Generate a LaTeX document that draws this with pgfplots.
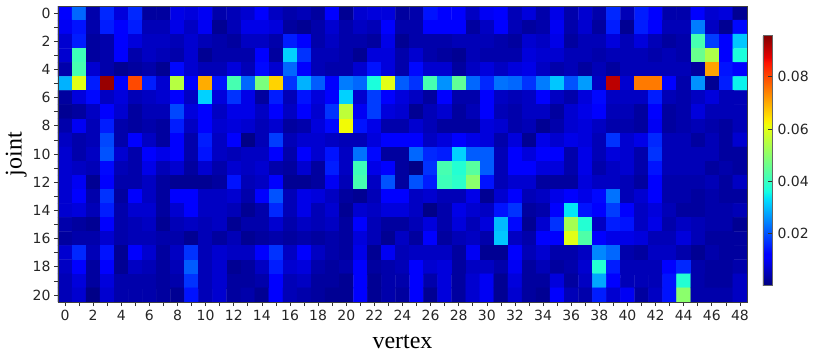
\documentclass[border=0pt]{standalone}
\usepackage{fontspec}
\setmainfont{DejaVu Sans}
\newfontfamily\timesfont{Liberation Serif}
\usepackage{pgfplots}
\pgfplotsset{compat=1.18}

% matplotlib's jet
\pgfplotsset{colormap={mpljet}{
  rgb(0)=(0,0,.5) rgb(22)=(0,0,1) rgb(25)=(0,0,1) rgb(68)=(0,.86,1) rgb(70)=(0,.9,.97)
  rgb(75)=(.08,1,.887) rgb(128)=(.935,1,.032) rgb(130)=(.968,.963,0) rgb(132)=(1,.926,0)
  rgb(178)=(1,.074,0) rgb(182)=(.909,0,0) rgb(200)=(.5,0,0)}}

\begin{document}
\begin{tikzpicture}
\useasboundingbox (-58pt,-54pt) rectangle (772pt,302pt);
\begin{axis}[
    at={(0pt,0pt)}, anchor=south west,
    scale only axis,
    width=689pt, height=296pt,
    y dir=reverse,
    xmin=-0.5, xmax=48.5, ymin=-0.5, ymax=20.5,
    enlargelimits=false,
    axis on top,
    axis line style={black!75, line width=0.8pt},
    xtick={0,2,...,48}, minor xtick={1,3,...,47},
    ytick={0,2,...,20}, minor ytick={1,3,...,19},
    xtick pos=lower, ytick pos=left,
    tick align=outside,
    major tick length=4pt, minor tick length=4pt,
    tick style={black!80, line width=0.7pt},
    /pgf/number format/assume math mode=true,
    ticklabel style={font=\fontsize{14}{16}\selectfont, text=black!85},
    xticklabel style={yshift=-1pt}, yticklabel style={xshift=0pt},
    xlabel={\timesfont\fontsize{24}{26}\selectfont vertex},
    ylabel={\timesfont\fontsize{24}{26}\selectfont joint},
    xlabel style={yshift=-7pt}, ylabel style={yshift=-1pt},
    colormap name=mpljet,
    point meta min=0.0004, point meta max=0.096,
    colorbar,
    colorbar style={
        scale only axis,
        at={(1.0232,0.0574)}, anchor=south west,
        width=9pt, height=250pt,
        ytick={0.02,0.04,0.06,0.08},
        yticklabel pos=right,
        ytick pos=right,
        major tick length=4pt,
        axis line style={black!60, line width=0.8pt},
        scaled y ticks=false,
        yticklabel style={xshift=2pt, /pgf/number format/.cd, fixed, fixed zerofill, precision=2, assume math mode=true},
    },
]
\addplot[matrix plot*, mesh/cols=49, mesh/ordering=x varies, point meta=explicit]
  table[row sep=\\, header=false, meta index=0,
        x expr={mod(\coordindex+0.5,49)-0.5}, y expr={floor((\coordindex+0.5)/49)}] {
0.011\\0.022\\0.004\\0.016\\0.008\\0.016\\0.003\\0.003\\0.009\\0.008\\0.010\\0.004\\0.005\\0.007\\0.012\\0.006\\0.004\\0.005\\0.003\\0.011\\0.002\\0.007\\0.008\\0.008\\0.003\\0.004\\0.014\\0.012\\0.012\\0.006\\0.010\\0.012\\0.005\\0.008\\0.004\\0.009\\0.004\\0.007\\0.004\\0.016\\0.005\\0.015\\0.011\\0.004\\0.004\\0.011\\0.007\\0.008\\0.002\\
0.010\\0.014\\0.004\\0.015\\0.011\\0.015\\0.005\\0.005\\0.009\\0.006\\0.010\\0.002\\0.005\\0.009\\0.009\\0.008\\0.003\\0.002\\0.004\\0.007\\0.004\\0.006\\0.005\\0.011\\0.004\\0.004\\0.011\\0.011\\0.012\\0.003\\0.006\\0.011\\0.005\\0.003\\0.004\\0.010\\0.004\\0.007\\0.003\\0.015\\0.002\\0.015\\0.012\\0.005\\0.005\\0.024\\0.006\\0.002\\0.013\\
0.007\\0.015\\0.003\\0.004\\0.012\\0.008\\0.006\\0.006\\0.005\\0.007\\0.005\\0.004\\0.003\\0.006\\0.006\\0.004\\0.015\\0.011\\0.004\\0.006\\0.004\\0.004\\0.003\\0.009\\0.002\\0.004\\0.004\\0.004\\0.005\\0.005\\0.005\\0.004\\0.003\\0.007\\0.006\\0.009\\0.003\\0.005\\0.005\\0.008\\0.005\\0.008\\0.005\\0.003\\0.004\\0.042\\0.018\\0.011\\0.031\\
0.007\\0.041\\0.003\\0.004\\0.012\\0.004\\0.006\\0.005\\0.004\\0.007\\0.002\\0.004\\0.004\\0.004\\0.011\\0.003\\0.032\\0.017\\0.005\\0.005\\0.004\\0.002\\0.008\\0.008\\0.004\\0.007\\0.004\\0.003\\0.002\\0.005\\0.004\\0.004\\0.004\\0.008\\0.007\\0.007\\0.005\\0.005\\0.004\\0.005\\0.005\\0.005\\0.004\\0.005\\0.004\\0.046\\0.054\\0.011\\0.037\\
0.004\\0.042\\0.007\\0.004\\0.002\\0.003\\0.004\\0.002\\0.013\\0.007\\0.005\\0.005\\0.008\\0.005\\0.013\\0.007\\0.022\\0.011\\0.005\\0.004\\0.004\\0.007\\0.014\\0.008\\0.004\\0.013\\0.007\\0.007\\0.003\\0.006\\0.008\\0.006\\0.008\\0.009\\0.006\\0.004\\0.005\\0.003\\0.005\\0.003\\0.005\\0.005\\0.005\\0.005\\0.005\\0.003\\0.071\\0.014\\0.011\\
0.029\\0.060\\0.015\\0.094\\0.012\\0.080\\0.015\\0.007\\0.055\\0.011\\0.070\\0.014\\0.042\\0.022\\0.048\\0.066\\0.017\\0.029\\0.021\\0.012\\0.024\\0.022\\0.037\\0.060\\0.021\\0.017\\0.042\\0.026\\0.045\\0.022\\0.016\\0.023\\0.022\\0.017\\0.024\\0.031\\0.020\\0.027\\0.006\\0.091\\0.007\\0.075\\0.075\\0.012\\0.004\\0.026\\0.002\\0.015\\0.035\\
0.003\\0.008\\0.013\\0.006\\0.008\\0.005\\0.006\\0.007\\0.012\\0.006\\0.032\\0.008\\0.017\\0.009\\0.003\\0.015\\0.005\\0.014\\0.008\\0.011\\0.032\\0.007\\0.018\\0.011\\0.008\\0.006\\0.003\\0.012\\0.004\\0.004\\0.011\\0.006\\0.005\\0.006\\0.012\\0.006\\0.004\\0.008\\0.013\\0.006\\0.006\\0.006\\0.015\\0.005\\0.004\\0.006\\0.008\\0.005\\0.005\\
0.002\\0.003\\0.006\\0.012\\0.007\\0.003\\0.005\\0.005\\0.019\\0.008\\0.012\\0.006\\0.009\\0.009\\0.006\\0.011\\0.006\\0.011\\0.007\\0.017\\0.056\\0.010\\0.018\\0.008\\0.007\\0.002\\0.005\\0.007\\0.003\\0.005\\0.011\\0.005\\0.004\\0.006\\0.006\\0.003\\0.007\\0.009\\0.011\\0.005\\0.005\\0.003\\0.011\\0.003\\0.004\\0.008\\0.005\\0.005\\0.005\\
0.004\\0.010\\0.005\\0.015\\0.004\\0.003\\0.004\\0.003\\0.015\\0.006\\0.011\\0.007\\0.008\\0.007\\0.005\\0.007\\0.003\\0.004\\0.008\\0.013\\0.062\\0.014\\0.009\\0.004\\0.004\\0.007\\0.005\\0.003\\0.003\\0.003\\0.008\\0.007\\0.004\\0.005\\0.002\\0.004\\0.007\\0.008\\0.006\\0.004\\0.004\\0.003\\0.010\\0.003\\0.004\\0.005\\0.004\\0.003\\0.005\\
0.006\\0.004\\0.005\\0.019\\0.004\\0.011\\0.006\\0.003\\0.011\\0.004\\0.015\\0.006\\0.011\\0.001\\0.005\\0.018\\0.005\\0.007\\0.007\\0.006\\0.005\\0.005\\0.008\\0.011\\0.011\\0.011\\0.006\\0.008\\0.011\\0.009\\0.008\\0.004\\0.008\\0.002\\0.009\\0.007\\0.009\\0.008\\0.005\\0.017\\0.007\\0.009\\0.016\\0.005\\0.005\\0.003\\0.005\\0.003\\0.007\\
0.007\\0.004\\0.006\\0.020\\0.007\\0.004\\0.011\\0.009\\0.011\\0.004\\0.014\\0.006\\0.005\\0.006\\0.006\\0.012\\0.004\\0.011\\0.007\\0.014\\0.006\\0.023\\0.013\\0.003\\0.003\\0.022\\0.016\\0.015\\0.032\\0.021\\0.021\\0.005\\0.012\\0.008\\0.012\\0.012\\0.004\\0.009\\0.005\\0.008\\0.007\\0.004\\0.017\\0.005\\0.005\\0.005\\0.005\\0.003\\0.003\\
0.007\\0.006\\0.005\\0.013\\0.005\\0.004\\0.009\\0.005\\0.007\\0.003\\0.007\\0.004\\0.007\\0.006\\0.007\\0.004\\0.003\\0.007\\0.003\\0.015\\0.006\\0.041\\0.009\\0.011\\0.003\\0.001\\0.017\\0.042\\0.038\\0.044\\0.021\\0.005\\0.011\\0.011\\0.008\\0.008\\0.004\\0.009\\0.004\\0.006\\0.007\\0.004\\0.014\\0.005\\0.005\\0.005\\0.003\\0.004\\0.003\\
0.007\\0.010\\0.002\\0.012\\0.004\\0.004\\0.006\\0.003\\0.002\\0.002\\0.002\\0.003\\0.014\\0.005\\0.006\\0.011\\0.002\\0.002\\0.003\\0.010\\0.005\\0.042\\0.006\\0.020\\0.003\\0.020\\0.015\\0.041\\0.039\\0.050\\0.014\\0.005\\0.007\\0.007\\0.003\\0.003\\0.003\\0.008\\0.006\\0.006\\0.005\\0.003\\0.011\\0.004\\0.004\\0.004\\0.005\\0.003\\0.006\\
0.007\\0.011\\0.004\\0.017\\0.003\\0.012\\0.006\\0.003\\0.011\\0.011\\0.006\\0.006\\0.007\\0.004\\0.011\\0.020\\0.005\\0.009\\0.008\\0.006\\0.003\\0.002\\0.005\\0.012\\0.011\\0.006\\0.007\\0.005\\0.005\\0.009\\0.002\\0.007\\0.012\\0.005\\0.006\\0.009\\0.011\\0.009\\0.013\\0.023\\0.005\\0.007\\0.011\\0.004\\0.004\\0.003\\0.004\\0.003\\0.003\\
0.007\\0.008\\0.005\\0.015\\0.004\\0.007\\0.007\\0.003\\0.007\\0.011\\0.006\\0.006\\0.005\\0.002\\0.004\\0.016\\0.005\\0.009\\0.005\\0.007\\0.002\\0.007\\0.006\\0.008\\0.008\\0.006\\0.001\\0.004\\0.009\\0.007\\0.006\\0.014\\0.017\\0.003\\0.004\\0.012\\0.034\\0.014\\0.011\\0.018\\0.011\\0.006\\0.008\\0.005\\0.003\\0.003\\0.004\\0.004\\0.005\\
0.004\\0.003\\0.002\\0.011\\0.004\\0.005\\0.006\\0.002\\0.005\\0.006\\0.005\\0.006\\0.002\\0.004\\0.004\\0.007\\0.004\\0.006\\0.005\\0.006\\0.003\\0.011\\0.005\\0.003\\0.003\\0.005\\0.008\\0.004\\0.008\\0.005\\0.008\\0.030\\0.013\\0.002\\0.007\\0.017\\0.053\\0.038\\0.006\\0.015\\0.014\\0.006\\0.009\\0.004\\0.006\\0.005\\0.004\\0.004\\0.002\\
0.003\\0.004\\0.004\\0.007\\0.004\\0.005\\0.005\\0.004\\0.004\\0.002\\0.005\\0.003\\0.005\\0.002\\0.003\\0.004\\0.003\\0.004\\0.003\\0.004\\0.003\\0.008\\0.005\\0.002\\0.006\\0.003\\0.011\\0.003\\0.005\\0.006\\0.004\\0.031\\0.006\\0.004\\0.012\\0.011\\0.060\\0.043\\0.011\\0.009\\0.009\\0.008\\0.005\\0.005\\0.008\\0.005\\0.003\\0.003\\0.003\\
0.007\\0.016\\0.005\\0.014\\0.002\\0.011\\0.007\\0.003\\0.006\\0.017\\0.005\\0.007\\0.006\\0.006\\0.011\\0.017\\0.006\\0.011\\0.006\\0.004\\0.003\\0.009\\0.002\\0.010\\0.005\\0.006\\0.006\\0.006\\0.003\\0.010\\0.002\\0.002\\0.011\\0.005\\0.007\\0.004\\0.004\\0.006\\0.025\\0.022\\0.004\\0.003\\0.006\\0.006\\0.004\\0.002\\0.004\\0.003\\0.003\\
0.006\\0.011\\0.003\\0.011\\0.002\\0.006\\0.005\\0.003\\0.005\\0.021\\0.005\\0.007\\0.002\\0.003\\0.006\\0.015\\0.007\\0.008\\0.004\\0.003\\0.004\\0.011\\0.003\\0.004\\0.005\\0.011\\0.007\\0.008\\0.003\\0.006\\0.006\\0.004\\0.010\\0.003\\0.005\\0.003\\0.004\\0.007\\0.038\\0.015\\0.005\\0.005\\0.005\\0.011\\0.016\\0.004\\0.003\\0.003\\0.004\\
0.005\\0.008\\0.003\\0.008\\0.004\\0.004\\0.004\\0.003\\0.004\\0.017\\0.005\\0.007\\0.003\\0.003\\0.004\\0.011\\0.005\\0.006\\0.003\\0.003\\0.002\\0.011\\0.002\\0.004\\0.004\\0.011\\0.004\\0.008\\0.003\\0.007\\0.010\\0.002\\0.008\\0.003\\0.003\\0.008\\0.003\\0.006\\0.028\\0.011\\0.005\\0.005\\0.005\\0.014\\0.038\\0.004\\0.003\\0.003\\0.006\\
0.005\\0.007\\0.001\\0.007\\0.004\\0.004\\0.004\\0.003\\0.002\\0.014\\0.005\\0.007\\0.003\\0.004\\0.002\\0.011\\0.005\\0.004\\0.003\\0.002\\0.002\\0.011\\0.002\\0.004\\0.003\\0.011\\0.002\\0.008\\0.003\\0.007\\0.010\\0.002\\0.007\\0.003\\0.002\\0.011\\0.005\\0.004\\0.015\\0.007\\0.010\\0.003\\0.006\\0.014\\0.050\\0.004\\0.004\\0.004\\0.006\\
};
\end{axis}
\end{tikzpicture}
\end{document}
